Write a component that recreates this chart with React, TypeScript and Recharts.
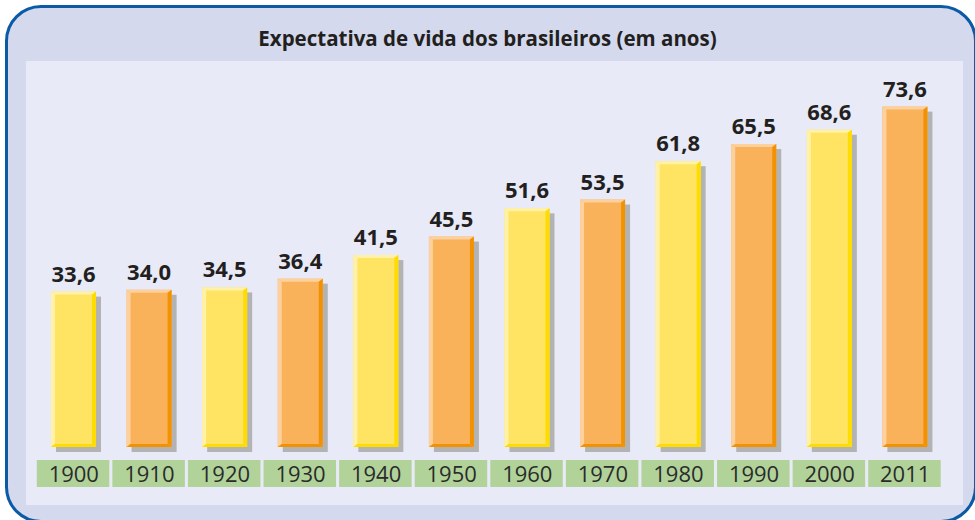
import React from 'react';
import { BarChart, Bar, XAxis, YAxis, LabelList } from 'recharts';

const years = ['1900', '1910', '1920', '1930', '1940', '1950', '1960', '1970', '1980', '1990', '2000', '2011'];
const lifeExpectancy = [33.6, 34.0, 34.5, 36.4, 41.5, 45.5, 51.6, 53.5, 61.8, 65.5, 68.6, 73.6];

const data = years.map((year, i) => ({ year, value: lifeExpectancy[i] }));

const PALETTE = [
  { main: '#fee462', light: '#fff2a8', dark: '#ffdc00' },
  { main: '#f9b15a', light: '#fdd19d', dark: '#f39200' },
];

const FONT = '"Open Sans", "DejaVu Sans", sans-serif';

// barra com bisel e sombra
const BevelBar = (props: any) => {
  const { x, y, width, height, index } = props;
  if (!height || height <= 0) return null;
  const c = PALETTE[index % 2];
  const b = 4;
  const t = 3;
  const s = 5;
  const r = x + width;
  const btm = y + height;
  return (
    <g>
      <rect x={x + s} y={y + s} width={width} height={height} fill="#b3b3b3" />
      <rect x={x} y={y} width={width} height={height} fill={c.main} />
      <polygon points={`${x},${y} ${r},${y} ${r - b},${y + t} ${x + b},${y + t}`} fill={c.light} />
      <polygon points={`${x},${y} ${x + b},${y + t} ${x + b},${btm - t} ${x},${btm}`} fill={c.light} />
      <polygon points={`${r},${y} ${r},${btm} ${r - b},${btm - t} ${r - b},${y + t}`} fill={c.dark} />
      <polygon points={`${x},${btm} ${r},${btm} ${r - b},${btm - t} ${x + b},${btm - t}`} fill={c.dark} />
    </g>
  );
};

const YearTick = (props: any) => {
  const { x, y, payload } = props;
  return (
    <g>
      <rect x={x - 37} y={y + 13} width={72.5} height={27} fill="#b1d39a" />
      <text x={x} y={y + 34.5} textAnchor="middle" fontFamily={FONT} fontSize={22} fill="#2b2b2b">
        {payload.value}
      </text>
    </g>
  );
};

const ValueLabel = (props: any) => {
  const { x, y, width, value } = props;
  return (
    <text x={x + width / 2} y={y - 10} textAnchor="middle" fontFamily={FONT} fontSize={22} fontWeight={700} fill="#231f20">
      {Number(value).toFixed(1).replace('.', ',')}
    </text>
  );
};

export default function App() {
  return (
    <div style={{ position: 'absolute', left: 0, top: 0, width: 975, height: 520, overflow: 'hidden', background: '#ffffff' }}>
      <div
        style={{
          position: 'absolute',
          left: 5,
          top: 5,
          width: 972,
          height: 518,
          boxSizing: 'border-box',
          border: '3px solid #0b5aa6',
          borderRadius: 36,
          background: '#d4d9ee',
        }}
      />
      <div style={{ position: 'absolute', left: 26, top: 61, width: 937, height: 444, background: '#e8eaf7' }} />
      <div
        style={{
          position: 'absolute',
          left: 0,
          top: 24,
          width: 975,
          textAlign: 'center',
          fontFamily: FONT,
          fontWeight: 700,
          fontSize: 20.5,
          lineHeight: '28px',
          color: '#231f20',
        }}
      >
        Expectativa de vida dos brasileiros (em anos)
      </div>
      <div style={{ position: 'absolute', left: 0, top: 0 }}>
        <BarChart width={975} height={520} data={data} margin={{ top: 77, right: 32, bottom: 0, left: 36 }} barSize={45}>
          <XAxis dataKey="year" axisLine={false} tickLine={false} tickSize={0} tickMargin={0} tick={<YearTick />} interval={0} height={73} />
          <YAxis hide domain={[0, 80]} />
          <Bar dataKey="value" shape={<BevelBar />} isAnimationActive={false}>
            <LabelList dataKey="value" content={<ValueLabel />} />
          </Bar>
        </BarChart>
      </div>
    </div>
  );
}
